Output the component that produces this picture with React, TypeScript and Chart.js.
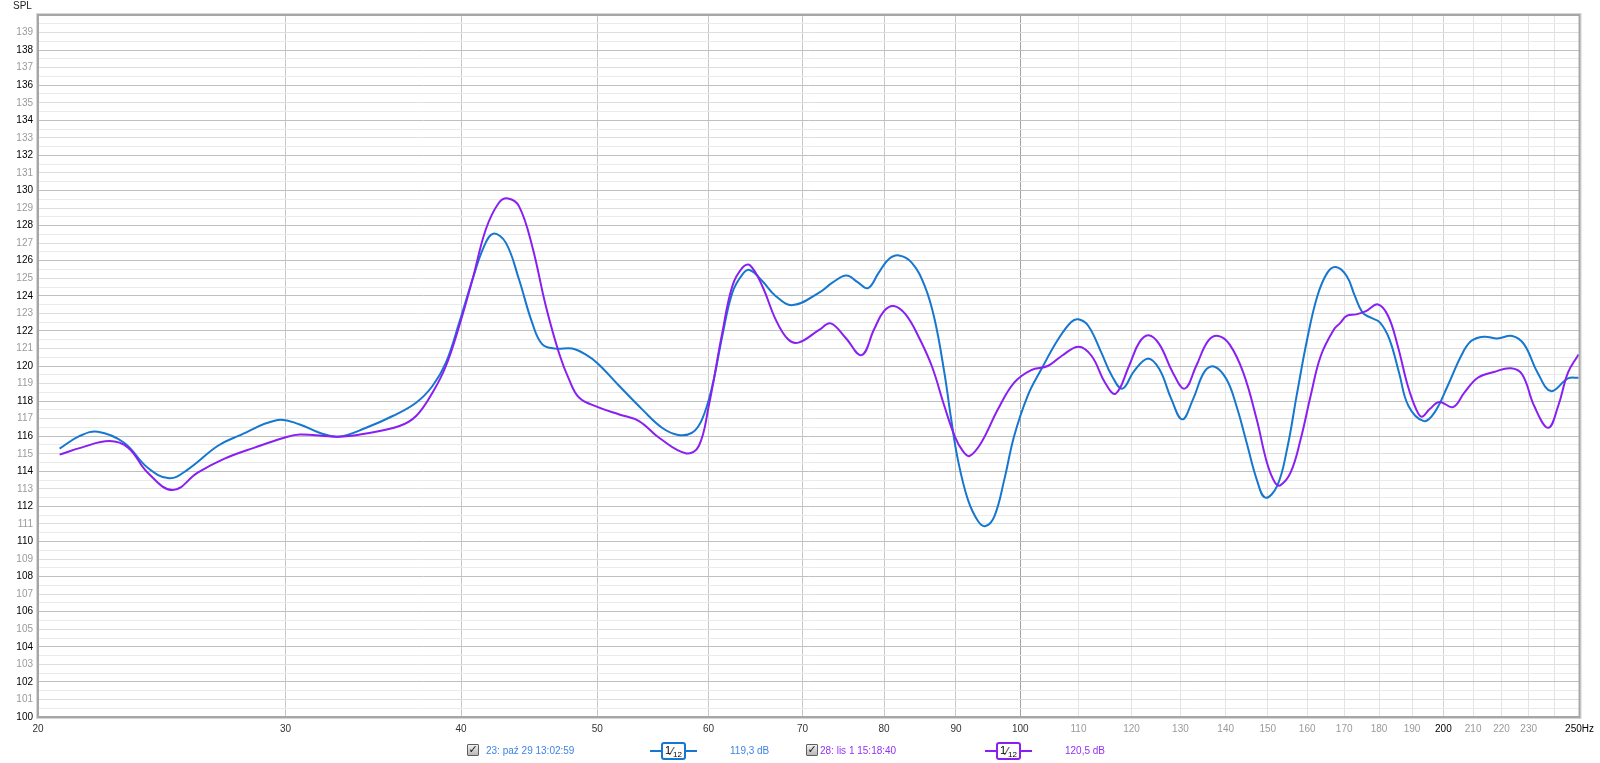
import React, { useEffect, useRef } from "react";
import { Chart, registerables } from "chart.js";

Chart.register(...registerables);

// ---- data (Hz / dB SPL) ----
const blueFreq = [20.72, 21.4, 22.06, 23.03, 23.94, 24.8, 25.56, 26.84, 27.74, 29.62, 30.71, 31.72, 32.7, 34.24, 35.76, 37.16, 38.17, 39.02, 39.88, 40.76, 41.55, 42.17, 43.04, 43.98, 44.94, 45.7, 46.7, 47.98, 49.05, 50.06, 51.84, 53.82, 55.6, 57.1, 58.42, 59.37, 60.37, 61.37, 62.39, 63.43, 64.19, 65.52, 66.97, 68.88, 71.92, 73.5, 75.2, 76.6, 77.92, 79.3, 80.6, 81.97, 83.7, 85.5, 86.9, 88.3, 89.3, 90.27, 91.76, 93.3, 94.47, 95.86, 97.42, 99.0, 101.2, 103.5, 106.4, 108.7, 110.0, 111.8, 114.2, 116.2, 118.2, 120.5, 123.2, 125.6, 128.1, 130.4, 132.7, 135.3, 137.5, 140.2, 142.5, 144.9, 147.3, 149.4, 152.3, 154.8, 157.4, 160.0, 162.7, 165.4, 167.7, 170.7, 173.0, 175.2, 177.6, 180.3, 183.1, 186.0, 188.9, 193.7, 197.1, 201.4, 205.9, 209.3, 213.7, 218.5, 223.9, 228.3, 233.4, 238.6, 245.3, 249.6];
const blueSpl = [115.29, 116.0, 116.26, 115.63, 114.2, 113.6, 114.1, 115.44, 116.0, 116.92, 116.67, 116.2, 115.97, 116.48, 117.15, 117.91, 118.86, 120.19, 122.47, 124.94, 126.84, 127.54, 127.03, 124.94, 122.47, 121.23, 120.99, 121.0, 120.66, 120.13, 118.86, 117.53, 116.48, 116.07, 116.2, 116.96, 118.86, 121.71, 124.18, 125.22, 125.47, 124.84, 123.99, 123.47, 124.18, 124.75, 125.16, 124.78, 124.44, 125.32, 126.08, 126.3, 125.89, 124.56, 122.66, 119.62, 116.96, 114.68, 112.4, 111.17, 110.88, 111.45, 113.54, 116.01, 118.29, 119.81, 121.52, 122.51, 122.66, 122.28, 120.76, 119.43, 118.71, 119.71, 120.42, 119.81, 118.1, 116.96, 118.1, 119.71, 119.96, 119.24, 117.72, 115.63, 113.54, 112.5, 113.16, 115.25, 118.48, 121.52, 123.99, 125.32, 125.64, 125.13, 123.99, 123.04, 122.75, 122.47, 121.52, 119.62, 117.72, 116.86, 117.34, 118.86, 120.57, 121.42, 121.67, 121.57, 121.71, 121.23, 119.62, 118.57, 119.29, 119.33];

const purpleFreq = [20.72, 21.47, 22.48, 23.18, 23.94, 24.94, 25.98, 27.15, 28.52, 29.94, 30.71, 32.7, 34.24, 36.16, 37.16, 38.17, 39.02, 39.88, 40.76, 41.66, 42.56, 43.2, 43.98, 44.94, 45.96, 46.98, 47.74, 48.55, 50.06, 51.84, 53.54, 55.33, 57.86, 59.05, 60.02, 61.37, 62.39, 63.43, 64.19, 65.52, 66.97, 68.35, 69.53, 71.92, 73.3, 75.1, 77.1, 78.7, 79.98, 81.3, 82.87, 84.6, 86.5, 88.3, 89.8, 91.0, 92.0, 93.8, 96.4, 99.0, 101.8, 104.6, 107.0, 110.0, 112.4, 114.9, 116.9, 119.5, 121.5, 123.4, 125.6, 128.4, 130.9, 133.4, 136.0, 138.3, 140.9, 144.1, 147.3, 149.8, 151.8, 153.1, 155.7, 158.3, 160.9, 163.6, 167.2, 168.8, 170.7, 173.4, 176.2, 179.7, 182.7, 185.6, 188.7, 191.3, 193.0, 195.5, 198.7, 203.2, 207.0, 211.6, 217.3, 223.4, 227.6, 232.1, 237.5, 241.4, 245.3, 249.6];
const purpleSpl = [114.95, 115.35, 115.72, 115.35, 113.92, 112.93, 113.92, 114.72, 115.35, 115.91, 116.1, 115.97, 116.16, 116.58, 117.15, 118.48, 120.0, 122.28, 124.94, 127.79, 129.3, 129.55, 129.11, 126.84, 123.42, 120.7, 119.24, 118.19, 117.66, 117.24, 116.86, 115.91, 115.02, 115.44, 117.72, 121.9, 124.56, 125.6, 125.75, 124.56, 122.66, 121.52, 121.33, 122.06, 122.43, 121.61, 120.62, 122.09, 123.13, 123.42, 122.94, 121.71, 120.0, 117.72, 116.01, 115.16, 114.87, 115.63, 117.53, 119.05, 119.77, 120.0, 120.57, 121.1, 120.57, 119.05, 118.42, 120.0, 121.33, 121.75, 121.23, 119.62, 118.71, 120.0, 121.42, 121.71, 121.23, 119.62, 116.96, 114.49, 113.35, 113.2, 113.92, 115.82, 118.29, 120.57, 122.09, 122.43, 122.85, 122.94, 123.13, 123.51, 122.85, 121.14, 118.86, 117.53, 117.11, 117.53, 117.95, 117.66, 118.48, 119.33, 119.66, 119.87, 119.52, 117.72, 116.48, 117.72, 119.62, 120.66];

const xTicks = [20, 30, 40, 50, 60, 70, 80, 90, 100, 110, 120, 130, 140, 150, 160, 170, 180, 190, 200, 210, 220, 230, 240, 250];
const yMin = 100;
const yMax = 140;

const seriesNames = ["23: paź 29 13:02:59", "28: lis 1 15:18:40"];
const seriesLevels = ["119,3 dB", "120,5 dB"];

const BLUE = "#1677d0";
const PURPLE = "#8a1ff2";
const BLUE_TEXT = "#3f83e6";
const PURPLE_TEXT = "#9230f5";
const FONT = "'Liberation Sans', Arial, sans-serif";

const borderPlugin = {
  id: "plotBorder",
  afterDraw(chart: any) {
    const { ctx, chartArea: a } = chart;
    ctx.save();
    ctx.strokeStyle = "#d6d6d6";
    ctx.lineWidth = 1;
    ctx.strokeRect(a.left - 1.5, a.top - 1.5, a.right - a.left + 3, a.bottom - a.top + 3);
    ctx.strokeStyle = "#a6a6a6";
    ctx.lineWidth = 2;
    ctx.strokeRect(a.left, a.top, a.right - a.left, a.bottom - a.top);
    ctx.restore();
  },
};

function xLabelColor(v: number) {
  if (v === 200 || v === 250) return "#000000";
  if (v <= 100) return "#333333";
  return "#9a9a9a";
}
function xGridColor(v: number) {
  if (v === 100) return "#a3a3a3";
  if (v < 100) return "#c9c9c9";
  if (v === 200) return "#d2d2d2";
  return "#e3e3e3";
}
function yGridColor(v: number) {
  if (Number.isInteger(v)) return v % 2 === 0 ? "#c0c0c0" : "#dedede";
  return "#eaeaea";
}

function Legend() {
  const items = [
    { left: 467, textLeft: 486, sample: 650, level: 730, color: BLUE, text: BLUE_TEXT },
    { left: 806, textLeft: 820, sample: 985, level: 1065, color: PURPLE, text: PURPLE_TEXT },
  ];
  return (
    <>
      {items.map((it, i) => (
        <React.Fragment key={i}>
          <div
            style={{
              position: "absolute", left: it.left, top: 744, width: 12, height: 12,
              border: "1px solid #5e5e5e", borderRadius: 1,
              background: "linear-gradient(#f0f0f0, #b8b8b8)", boxSizing: "border-box",
              fontFamily: "'DejaVu Sans', sans-serif", fontSize: 11, lineHeight: "10px",
              textAlign: "center", color: "#111", fontWeight: "bold",
            }}
          >
            ✓
          </div>
          <div style={{ position: "absolute", left: it.textLeft, top: 745, fontFamily: FONT, fontSize: 10, lineHeight: "12px", color: it.text, whiteSpace: "nowrap" }}>
            {seriesNames[i]}
          </div>
          <div style={{ position: "absolute", left: it.sample, top: 742, width: 47, height: 18 }}>
            <div style={{ position: "absolute", left: 0, top: 8, width: 47, height: 2, background: it.color }} />
            <div
              style={{
                position: "absolute", left: 11, top: 0, width: 25, height: 18, boxSizing: "border-box",
                border: `2px solid ${it.color}`, borderRadius: 3, background: "#fff",
                fontFamily: FONT, fontSize: 11, lineHeight: "14px", color: "#000", textAlign: "center", whiteSpace: "nowrap",
              }}
            >
              <span style={{ position: "relative", top: -1 }}>1</span>
              <span style={{ fontSize: 11 }}>⁄</span>
              <span style={{ fontSize: 8, position: "relative", top: 2 }}>12</span>
            </div>
          </div>
          <div style={{ position: "absolute", left: it.level, top: 745, fontFamily: FONT, fontSize: 10, lineHeight: "12px", color: it.text, whiteSpace: "nowrap" }}>
            {seriesLevels[i]}
          </div>
        </React.Fragment>
      ))}
    </>
  );
}

export default function App() {
  const canvasRef = useRef<HTMLCanvasElement | null>(null);

  useEffect(() => {
    const canvas = canvasRef.current;
    if (!canvas) return;
    const chart = new Chart(canvas, {
      type: "line",
      data: {
        datasets: [
          {
            label: seriesNames[1],
            data: purpleFreq.map((f, i) => ({ x: f, y: purpleSpl[i] })),
            borderColor: PURPLE,
            borderWidth: 2,
            pointRadius: 0,
            fill: false,
            tension: 0.4,
            order: 0,
          },
          {
            label: seriesNames[0],
            data: blueFreq.map((f, i) => ({ x: f, y: blueSpl[i] })),
            borderColor: BLUE,
            borderWidth: 2,
            pointRadius: 0,
            fill: false,
            tension: 0.4,
            order: 1,
          },
        ],
      },
      options: {
        animation: false,
        responsive: false,
        maintainAspectRatio: false,
        layout: { padding: { top: 15, right: 18, left: 0, bottom: 0 } },
        plugins: { legend: { display: false }, tooltip: { enabled: false } },
        scales: {
          x: {
            type: "logarithmic",
            min: 20,
            max: 250,
            border: { display: false },
            afterBuildTicks: (scale: any) => {
              scale.ticks = xTicks.map((v) => ({ value: v }));
            },
            afterFit: (scale: any) => {
              scale.height = 46;
            },
            grid: {
              drawTicks: false,
              lineWidth: 1,
              color: (ctx: any) => xGridColor(ctx.tick ? ctx.tick.value : 0),
            },
            ticks: {
              autoSkip: false,
              maxRotation: 0,
              padding: 6,
              font: { family: FONT, size: 10 },
              color: (ctx: any) => xLabelColor(ctx.tick ? ctx.tick.value : 0),
              callback: (v: any) => (v === 240 ? "" : v === 250 ? "250Hz" : String(v)),
            },
          },
          y: {
            type: "linear",
            min: yMin,
            max: yMax,
            border: { display: false },
            afterBuildTicks: (scale: any) => {
              const t = [];
              for (let v = yMin; v <= yMax + 0.001; v += 0.5) t.push({ value: v });
              scale.ticks = t;
            },
            afterFit: (scale: any) => {
              scale.width = 38;
            },
            grid: {
              drawTicks: false,
              lineWidth: 1,
              color: (ctx: any) => yGridColor(ctx.tick ? ctx.tick.value : 0),
            },
            ticks: {
              autoSkip: false,
              padding: 5,
              font: { family: FONT, size: 10 },
              color: (ctx: any) => {
                const v = ctx.tick ? ctx.tick.value : 0;
                return v % 2 === 0 ? "#000000" : "#9a9a9a";
              },
              callback: (v: any) => (Number.isInteger(v) && v < yMax ? String(v) : ""),
            },
          },
        },
      },
      plugins: [borderPlugin],
    } as any);
    return () => chart.destroy();
  }, []);

  return (
    <div style={{ position: "absolute", left: 0, top: 0, width: 1600, height: 763, background: "#fff", overflow: "hidden" }}>
      <canvas ref={canvasRef} width={1600} height={763} style={{ position: "absolute", left: 0, top: 0 }} />
      <div style={{ position: "absolute", left: 13, top: 0, fontFamily: FONT, fontSize: 10, lineHeight: "12px", color: "#222" }}>SPL</div>
      <Legend />
    </div>
  );
}
